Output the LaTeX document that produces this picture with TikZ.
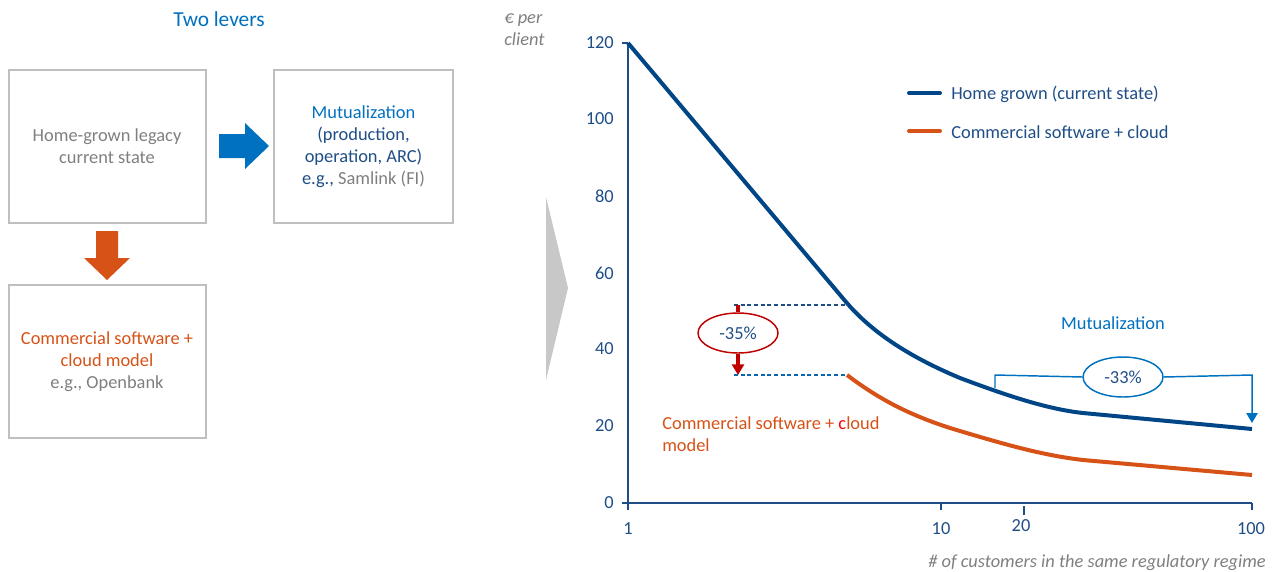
\documentclass[tikz,border=0pt]{standalone}
\usepackage{fontspec}
\setmainfont{Carlito}
\usetikzlibrary{arrows.meta,shapes.geometric}

\definecolor{lblue}{RGB}{0,112,192}
\definecolor{dblue}{RGB}{0,69,134}
\definecolor{tblue}{RGB}{31,78,135}
\definecolor{orng}{RGB}{214,82,22}
\definecolor{dred}{RGB}{192,0,0}
\definecolor{txtgray}{RGB}{127,127,127}
\definecolor{boxgray}{RGB}{191,191,191}
\definecolor{trigray}{RGB}{200,200,200}

\tikzset{
  txt/.style={font=\fontsize{13.8}{16.5}\selectfont, inner sep=0pt},
  lever/.style={txt, draw=boxgray, line width=1.5pt, align=center,
    minimum width=147.75pt, minimum height=114.75pt},
  ylab/.style={txt, text=tblue, anchor=east},
  xlab/.style={txt, text=tblue},
  curve/.style={line width=3pt, line join=round, line cap=butt},
  axisline/.style={draw=tblue, line width=1.1pt},
  guide/.style={draw=tblue, dashed, line width=0.8pt, dash pattern=on 3pt off 2pt},
  pct/.style={txt, ellipse, line width=1.1pt, minimum width=60pt, minimum height=30pt, text=tblue},
}

\begin{document}
\begin{tikzpicture}[x=0.75pt,y=-0.75pt]
\useasboundingbox (0,0) rectangle (1273,571);

% ---------- two levers ----------
\node[txt, text=lblue, font=\fontsize{16}{19}\selectfont] (title) at (219,19) {Two levers};

\node[lever, text=txtgray] (home) at (107,146) {Home-grown legacy\\current state};
\node[lever, minimum width=134pt] (mutual) at (363.5,146.5)
  {\textcolor{lblue}{Mutualization}\\\textcolor{tblue}{(production,}\\\textcolor{tblue}{operation, ARC)}\\\textcolor{tblue}{e.g.,} \textcolor{txtgray}{Samlink (FI)}};
\node[lever] (commercial) at (107,361.5)
  {\textcolor{orng}{Commercial software +}\\\textcolor{orng}{cloud model}\\\textcolor{txtgray}{e.g., Openbank}};

% block arrows between the boxes
\fill[lblue] (219,134) -- (245,134) -- (245,123) -- (269,146) -- (245,169) -- (245,158) -- (219,158) -- cycle;
\fill[orng] (96,231) -- (118,231) -- (118,258) -- (130,258) -- (107,280) -- (84,258) -- (96,258) -- cycle;

% grey chevron
\fill[trigray] (546,197) -- (568,288) -- (546,380) -- cycle;

% ---------- chart ----------
\coordinate (o) at (628,503);
\coordinate (ytop) at (628,43);
\coordinate (xend) at (1252,503);
\draw[axisline] (ytop) -- (o) -- (xend);
\draw[axisline] (622,43) -- (ytop);
\draw[axisline] (622,503) -- (o);
\draw[axisline] (628,503) -- (628,510);
\draw[axisline] (941,503) -- (941,510);
\draw[axisline] (1024,506) -- (1024,515);
\draw[axisline] (1252,503) -- (1252,510);

\node[txt, text=txtgray, font=\itshape\fontsize{13.8}{16.5}\selectfont, align=left, anchor=west] (unit) at (504,30) {€ per\\client};

\node[ylab] (y120) at (614,43) {120};
\node[ylab] (y100) at (614,119) {100};
\node[ylab] (y80) at (614,196) {80};
\node[ylab] (y60) at (614,273) {60};
\node[ylab] (y40) at (614,349) {40};
\node[ylab] (y20) at (614,426) {20};
\node[ylab] (y0) at (614,503) {0};

\node[xlab] (x1) at (628,529) {1};
\node[xlab] (x10) at (941,529) {10};
\node[xlab] (x20) at (1021,526) {20};
\node[xlab] (x100) at (1251,529) {100};

\node[txt, text=txtgray, font=\itshape\fontsize{13.8}{16.5}\selectfont, anchor=east] (xtitle) at (1266,563) {\# of customers in the same regulatory regime};

% cost curves
\draw[curve, dblue] (628,43) -- (846,302)
  .. controls (870,330) and (905,355) .. (960,378)
  .. controls (1000,393) and (1045,409) .. (1083,413)
  -- (1252,429);
\draw[curve, orng] (847,375)
  .. controls (880,400) and (910,415) .. (950,428)
  .. controls (1000,443) and (1040,455) .. (1083,460)
  -- (1252,475);

% legend
\draw[curve, dblue, line cap=round] (909,93) -- (940,93);
\node[txt, text=tblue, anchor=west] (leg1) at (951,94) {Home grown (current state)};
\draw[curve, orng, line cap=round] (909,131) -- (940,131);
\node[txt, text=tblue, anchor=west] (leg2) at (951,132) {Commercial software + cloud};

% commercial lever: -35 %
\coordinate (h35a) at (734,305);
\coordinate (h35b) at (848,305);
\coordinate (l35a) at (734,375);
\coordinate (l35b) at (847,375);
\draw[guide] (h35a) -- (h35b);
\draw[guide, draw=lblue!70!tblue] (l35a) -- (l35b);
\node[pct, draw=dred] (e35) at (738,333) {-35\%};
\coordinate (t35) at (738,305);
\coordinate (b35) at (738,375);
\draw[dred, line width=3pt] (t35) -- (e35.north);
\draw[dred, line width=3pt, -{Triangle[length=8pt,width=9pt]}] (e35.south) -- (b35);

\node[txt, anchor=west, align=left, text=orng] (comlab) at (662,434)
  {Commercial software + \textcolor{red}{c}loud\\model};

% mutualization lever: -33 %
\node[txt, text=lblue] (mutlab) at (1113,323) {Mutualization};
\node[pct, draw=lblue] (e33) at (1123,377) {-33\%};
\coordinate (m1) at (995,388);
\coordinate (m2) at (995,375);
\coordinate (m3) at (1252,375);
\coordinate (m4) at (1252,423);
\draw[lblue, line width=1.1pt] (m1) -- (m2) -- (e33.west);
\draw[lblue, line width=1.1pt, -{Triangle[length=7.5pt,width=8.5pt]}] (e33.east) -- (m3) -- (m4);
\end{tikzpicture}
\end{document}
